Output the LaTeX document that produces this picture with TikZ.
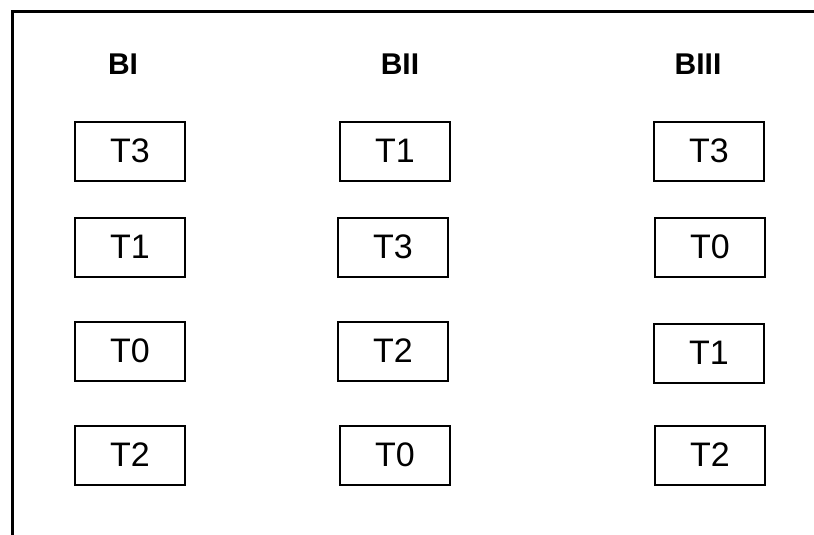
\documentclass[tikz,border=0pt]{standalone}
\usepackage{fontspec}
\setmainfont{Liberation Sans}
\begin{document}
\begin{tikzpicture}[x=1pt,y=-1pt,
  tbox/.style={draw=black,line width=2pt,minimum width=110pt,minimum height=59pt,inner sep=0pt,font=\fontsize{34}{38}\selectfont},
  head/.style={font=\fontsize{30}{34}\selectfont\bfseries,inner sep=0pt}]
\useasboundingbox (0,0) rectangle (814,535);
\coordinate (fl) at (12,535);
\coordinate (tl) at (12,12);
\coordinate (tr) at (814,12);
\draw[line width=3pt] (fl) -- (tl) -- (tr);
\node[head] (h1) at (123,64) {BI};
\node[head] (h2) at (400,64) {BII};
\node[head] (h3) at (698,64) {BIII};
\node[tbox] (a1) at (130,151) {T3};
\node[tbox] (a2) at (130,247) {T1};
\node[tbox] (a3) at (130,351) {T0};
\node[tbox] (a4) at (130,455) {T2};
\node[tbox] (b1) at (395,151) {T1};
\node[tbox] (b2) at (393,247) {T3};
\node[tbox] (b3) at (393,351) {T2};
\node[tbox] (b4) at (395,455) {T0};
\node[tbox] (c1) at (709,151) {T3};
\node[tbox] (c2) at (710,247) {T0};
\node[tbox] (c3) at (709,353) {T1};
\node[tbox] (c4) at (710,455) {T2};
\end{tikzpicture}
\end{document}
